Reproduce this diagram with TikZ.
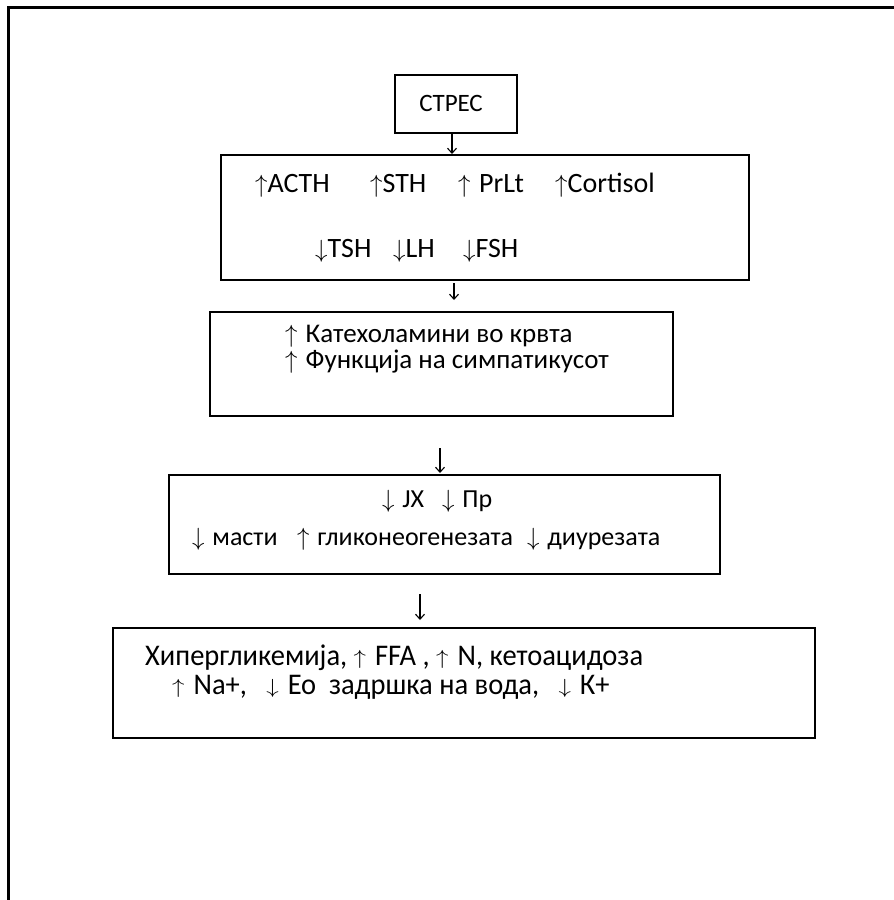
\documentclass[tikz,border=0pt]{standalone}
\usepackage{fontspec}
\usepackage{graphicx}
\setmainfont{Carlito}
\newfontfamily\narrowfont[FakeStretch=0.95]{Carlito}
\usetikzlibrary{arrows.meta}
\newcommand{\upar}{$\uparrow$\hspace{0.3em}}
\newcommand{\dnar}{$\downarrow$\hspace{0.3em}}
\newcommand{\uparn}{\raisebox{0.03em}{\scalebox{1}[0.82]{$\uparrow$}}\hspace{0.3em}}
\newcommand{\dnarn}{\raisebox{0.03em}{\scalebox{1}[0.82]{$\downarrow$}}\hspace{0.3em}}
\begin{document}
\begin{tikzpicture}[x=1pt,y=-1pt,
  box/.style={draw, line width=2pt, inner sep=0pt},
  tbase/.style={anchor=base west, inner sep=0pt, text height=0.66em, text depth=0.14em},
  txt/.style={tbase, font=\fontsize{28}{30}\selectfont},
  txtb/.style={tbase, font=\fontsize{26}{28}\selectfont},
  txtc/.style={tbase, font=\fontsize{27}{28}\selectfont},
  txtn/.style={tbase, font=\narrowfont\fontsize{30}{30}\selectfont},
  conn/.style={line width=1.1pt, -{Straight Barb[length=5pt,width=9pt]}}]
\useasboundingbox (0,0) rectangle (894,900);
% outer frame (top and left only)
\draw[line width=2.2pt] (8.5,900) -- (8.5,7.5) -- (894,7.5);
% boxes
\node[box, minimum width=122pt, minimum height=58pt] (stres) at (456,104) {};
\node[box, minimum width=528pt, minimum height=125pt] (horm) at (485,217.5) {};
\node[box, minimum width=463pt, minimum height=104pt] (kat) at (441.5,364) {};
\node[box, minimum width=551pt, minimum height=99pt] (met) at (444.5,524.5) {};
\node[box, minimum width=702pt, minimum height=110pt] (res) at (464,683) {};
% texts
\node[tbase, anchor=base, font=\fontsize{25}{28}\selectfont] (t0) at (451,111) {СТРЕС};
\node[txt] (t1) at (255,192) {$\uparrow$ACTH};
\node[txt] (t2) at (370,192) {$\uparrow$STH};
\node[txt] (t3) at (458,192) {\upar PrLt};
\node[txt] (t4) at (555,192) {$\uparrow$Cortisol};
\node[txt] (t5) at (315,257) {$\downarrow$TSH};
\node[txt] (t6) at (393,257) {$\downarrow$LH};
\node[txt] (t7) at (463,257) {$\downarrow$FSH};
\node[txtc] (t8) at (285,342) {\upar Катехоламини во крвта};
\node[txtc] (t9) at (285,368) {\upar Функција на симпатикусот};
\node[txtb] (t10) at (382,507) {\dnar JX};
\node[txtb] (t11) at (442,507) {\dnar Пр};
\node[txtb] (t12) at (192,545) {\dnar масти};
\node[txtb] (t13) at (297,545) {\upar гликонеогенезата};
\node[txtb] (t14) at (527,545) {\dnar диурезата};
\node[txtn] (t15) at (145,665) {Хипергликемија, \uparn FFA , \uparn N, кетоацидоза};
\node[txtn] (t16) at (172,694) {\uparn Na+, \ \ \dnarn Ео \ задршка на вода, \ \ \dnarn К+};
% connectors
\draw[conn] ([xshift=-4pt]stres.south) -- ([xshift=-4pt]stres.south |- horm.north);
\coordinate (a2s) at (454,283);
\coordinate (a2e) at (454,300);
\coordinate (a3s) at (440,448);
\coordinate (a3e) at (440,473);
\coordinate (a4s) at (420,594);
\coordinate (a4e) at (420,620);
\draw[conn] (a2s) -- (a2e);
\draw[conn] (a3s) -- (a3e);
\draw[conn] (a4s) -- (a4e);
\end{tikzpicture}
\end{document}
